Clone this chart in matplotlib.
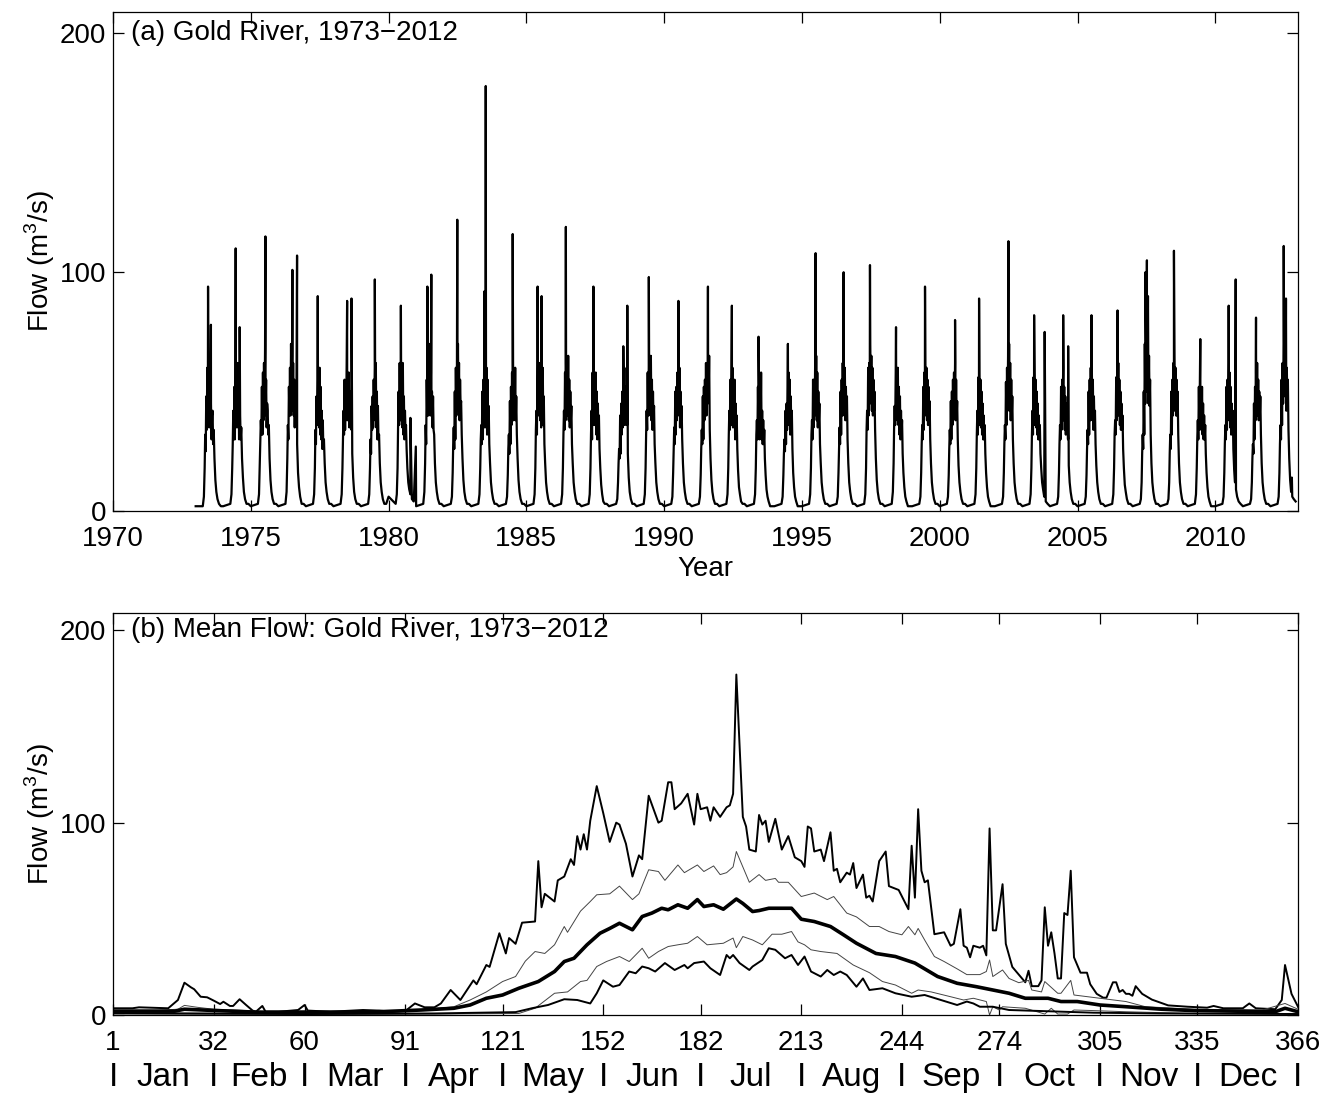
import numpy as np
import matplotlib
matplotlib.use("Agg")
import matplotlib.pyplot as plt
import matplotlib.transforms as mtransforms

plt.rcParams['font.family'] = ['Liberation Sans', 'DejaVu Sans']
plt.rcParams['mathtext.fontset'] = 'custom'
plt.rcParams['mathtext.rm'] = 'Liberation Sans'

# ---------------- panel (a): daily flow 1973-2012 ----------------
years = list(range(1973, 2013))
sample_doy = [1, 95, 110, 120, 127, 134, 141, 148, 155, 162, 169, 176, 183, 190,
              197, 204, 211, 218, 225, 232, 240, 250, 262, 275, 290, 310, 335]
body_flow = [
    [2, 2, 6, 18, 32, 25, 48, 34, 60, 35, 55, 40, 62, 35, 50, 45, 30, 40, 42, 28, 34, 22, 13, 8, 5, 3, 2],    # 1973
    [2, 3, 7, 18, 28, 42, 30, 52, 30, 55, 40, 50, 35, 62, 38, 55, 30, 45, 40, 30, 35, 22, 14, 8, 5, 3, 3],   # 1974
    [2, 3, 7, 20, 30, 38, 32, 52, 32, 58, 38, 62, 40, 68, 42, 55, 35, 45, 42, 32, 36, 22, 13, 8, 5, 3, 3],   # 1975
    [2, 3, 8, 22, 36, 30, 52, 40, 60, 40, 70, 45, 65, 42, 62, 40, 55, 35, 50, 36, 42, 28, 16, 10, 6, 3, 3],  # 1976
    [2, 3, 7, 18, 34, 28, 48, 36, 55, 38, 50, 35, 60, 32, 52, 30, 42, 26, 38, 26, 30, 20, 12, 8, 5, 3, 3],   # 1977
    [2, 3, 7, 18, 30, 42, 32, 55, 34, 48, 40, 62, 38, 55, 40, 58, 35, 50, 40, 45, 34, 24, 14, 8, 5, 3, 3],   # 1978
    [2, 3, 7, 18, 30, 24, 44, 34, 48, 35, 55, 40, 60, 38, 62, 35, 50, 30, 44, 30, 32, 20, 12, 8, 5, 3, 3],   # 1979
    [6, 3, 7, 18, 36, 50, 36, 62, 38, 55, 40, 58, 35, 62, 32, 48, 30, 42, 34, 36, 26, 18, 12, 9, 7, 5, 4],   # 1980
    [2, 3, 8, 20, 36, 28, 55, 40, 60, 40, 55, 45, 70, 40, 58, 42, 50, 35, 48, 34, 32, 20, 12, 8, 5, 3, 3],   # 1981
    [2, 3, 6, 16, 28, 35, 26, 50, 30, 60, 40, 55, 45, 70, 42, 62, 38, 55, 44, 46, 32, 22, 13, 8, 5, 3, 3],   # 1982
    [2, 3, 7, 18, 30, 36, 28, 50, 30, 55, 38, 62, 35, 50, 40, 60, 32, 55, 36, 44, 28, 20, 12, 8, 5, 3, 3],   # 1983
    [2, 3, 6, 15, 26, 32, 24, 46, 28, 52, 36, 58, 40, 62, 38, 55, 42, 60, 38, 48, 32, 22, 13, 8, 5, 3, 3],   # 1984
    [2, 3, 7, 18, 34, 42, 32, 62, 40, 55, 42, 62, 38, 58, 35, 52, 40, 60, 36, 48, 28, 20, 12, 8, 5, 3, 3],   # 1985
    [2, 3, 7, 18, 32, 42, 34, 58, 38, 62, 42, 58, 40, 65, 38, 55, 35, 50, 38, 44, 28, 20, 12, 8, 5, 3, 3],   # 1986
    [2, 3, 7, 18, 32, 42, 30, 58, 38, 60, 36, 52, 38, 58, 32, 50, 30, 45, 32, 40, 26, 18, 11, 7, 4, 3, 3],   # 1987
    [2, 3, 5, 12, 20, 26, 22, 40, 24, 45, 32, 50, 35, 55, 38, 60, 36, 52, 40, 48, 36, 24, 14, 8, 5, 3, 3],   # 1988
    [2, 3, 7, 18, 32, 42, 34, 58, 40, 60, 42, 58, 40, 65, 38, 55, 34, 50, 38, 44, 28, 20, 12, 8, 5, 3, 3],   # 1989
    [2, 3, 6, 16, 26, 35, 28, 50, 32, 52, 38, 58, 40, 55, 42, 60, 35, 50, 38, 44, 30, 20, 12, 8, 5, 3, 3],   # 1990
    [2, 3, 6, 15, 26, 34, 28, 48, 30, 52, 38, 55, 42, 62, 40, 58, 45, 60, 48, 65, 34, 22, 13, 8, 5, 3, 3],   # 1991
    [2, 3, 7, 18, 32, 42, 34, 55, 36, 55, 40, 60, 35, 52, 36, 55, 30, 45, 34, 40, 26, 17, 10, 7, 4, 3, 3],   # 1992
    [2, 3, 7, 18, 32, 38, 30, 52, 34, 55, 30, 45, 35, 58, 30, 42, 28, 38, 28, 34, 22, 15, 9, 6, 4, 2, 2],    # 1993
    [2, 3, 6, 15, 24, 30, 25, 42, 28, 45, 34, 52, 36, 58, 38, 55, 32, 48, 34, 42, 26, 16, 10, 6, 4, 2, 2],   # 1994
    [2, 3, 7, 18, 32, 38, 30, 55, 35, 55, 40, 62, 42, 65, 38, 58, 35, 50, 38, 45, 28, 20, 12, 8, 5, 3, 3],   # 1995
    [2, 3, 6, 16, 26, 35, 28, 50, 32, 55, 40, 62, 45, 68, 40, 60, 38, 52, 40, 48, 30, 20, 12, 8, 5, 3, 3],   # 1996
    [2, 3, 7, 18, 34, 42, 34, 60, 40, 62, 45, 70, 48, 65, 42, 60, 40, 55, 42, 50, 34, 22, 13, 8, 5, 3, 3],   # 1997
    [2, 3, 8, 20, 36, 44, 36, 58, 40, 50, 38, 60, 36, 52, 32, 48, 30, 42, 32, 38, 24, 16, 10, 6, 4, 2, 2],   # 1998
    [2, 3, 6, 16, 28, 36, 30, 52, 34, 58, 40, 62, 42, 60, 38, 55, 36, 52, 38, 46, 30, 20, 12, 8, 5, 3, 3],   # 1999
    [2, 3, 6, 15, 26, 34, 28, 46, 30, 50, 36, 55, 40, 58, 42, 62, 38, 55, 40, 46, 30, 19, 12, 8, 5, 3, 3],   # 2000
    [2, 3, 7, 18, 32, 42, 32, 56, 38, 58, 36, 55, 35, 50, 32, 45, 30, 40, 30, 36, 24, 16, 10, 6, 4, 2, 2],   # 2001
    [2, 3, 6, 16, 28, 36, 30, 54, 36, 60, 42, 65, 45, 70, 42, 62, 38, 55, 40, 48, 30, 20, 12, 8, 5, 3, 3],   # 2002
    [2, 3, 7, 18, 32, 42, 32, 56, 38, 58, 36, 55, 35, 50, 32, 45, 30, 40, 30, 36, 24, 18, 12, 9, 6, 4, 3],   # 2003
    [2, 3, 6, 16, 28, 36, 30, 52, 34, 55, 40, 60, 38, 52, 34, 48, 32, 45, 36, 42, 30, 19, 12, 8, 5, 3, 3],   # 2004
    [2, 3, 6, 15, 26, 34, 28, 50, 32, 55, 38, 60, 40, 62, 38, 55, 34, 48, 36, 42, 28, 19, 12, 8, 5, 3, 3],   # 2005
    [2, 3, 7, 18, 32, 38, 32, 56, 38, 60, 42, 62, 40, 55, 36, 50, 34, 45, 34, 40, 26, 18, 11, 8, 5, 3, 3],   # 2006
    [2, 3, 5, 12, 24, 32, 26, 50, 32, 70, 45, 80, 50, 85, 55, 90, 45, 65, 44, 55, 32, 20, 12, 8, 5, 3, 3],   # 2007
    [2, 3, 5, 12, 24, 32, 26, 50, 32, 55, 40, 62, 45, 65, 42, 60, 40, 55, 40, 50, 32, 20, 12, 8, 5, 3, 3],   # 2008
    [2, 3, 7, 18, 30, 38, 30, 52, 34, 55, 36, 50, 34, 52, 32, 45, 30, 40, 30, 36, 24, 16, 10, 6, 4, 2, 2],   # 2009
    [2, 3, 6, 16, 28, 36, 30, 52, 34, 55, 40, 62, 38, 58, 35, 52, 32, 45, 34, 42, 26, 18, 12, 9, 6, 4, 3],   # 2010
    [2, 3, 5, 12, 22, 28, 24, 45, 30, 52, 38, 58, 42, 62, 40, 55, 38, 50, 40, 48, 32, 20, 12, 8, 5, 3, 3],   # 2011
    [2, 3, 6, 16, 28, 36, 30, 55, 36, 62, 45, 70, 50, 75, 48, 68, 42, 60, 44, 55, 34, 22, 13, 8, 6, 5, 4],   # 2012
]
# single-day peaks
spike_year = [1973, 1973, 1974, 1974, 1975, 1976, 1976, 1977, 1978, 1978, 1979,
              1980, 1980, 1980, 1981, 1981, 1982, 1983, 1983, 1984, 1985, 1985,
              1986, 1987, 1988, 1988, 1989, 1990, 1991, 1992, 1993, 1994, 1995,
              1996, 1997, 1998, 1999, 2000, 2001, 2002, 2003, 2003, 2004, 2004,
              2005, 2006, 2007, 2007, 2008, 2009, 2010, 2010, 2011, 2012, 2012, 2012]
spike_doy = [165, 203, 166, 219, 195, 187, 249, 158, 182, 240, 184,
             164, 290, 362, 150, 202, 181, 193, 175, 185, 150, 203,
             159, 159, 190, 243, 163, 190, 216, 168, 156, 180, 182,
             188, 172, 152, 171, 204, 157, 181, 156, 296, 176, 242,
             186, 166, 170, 190, 183, 167, 178, 271, 175, 177, 207, 285]
spike_flow = [94, 78, 110, 77, 115, 101, 107, 90, 88, 89, 97,
              86, 39, 27, 94, 99, 122, 178, 92, 116, 94, 90,
              119, 94, 69, 86, 98, 88, 94, 86, 73, 70, 108,
              100, 103, 77, 94, 80, 89, 113, 82, 75, 82, 69,
              82, 84, 100, 105, 109, 72, 86, 97, 81, 111, 89, 14]

# ---------------- panel (b): day-of-year statistics ----------------
max_pts = [(1, 3.5), (7, 3.5), (9, 4), (18, 3.5), (21, 7.8), (23, 16.8), (25, 14.4), (26, 13.4),
           (28, 9.5), (30, 9.2), (32, 7.5), (34, 5.7), (35, 6.9), (37, 4.7), (38, 4.7), (40, 8.2),
           (42, 5.2), (44, 2.3), (45, 1.7), (47, 4.7), (48, 1.7), (52, 1.7), (58, 2.6), (60, 5.2),
           (61, 2.3), (68, 1.7), (78, 2.6), (83, 2.3), (87, 1.7), (91, 2), (94, 6), (97, 4),
           (100, 4), (102, 6), (105, 13), (108, 7.8), (112, 18), (113, 16), (116, 26), (117, 25),
           (120, 42.5), (122, 32), (123, 40), (125, 37), (127, 48), (131, 48.6), (132, 80), (133, 56),
           (134, 63), (137, 59), (138, 70), (140, 72), (142, 81), (143, 78), (144, 93), (145, 86),
           (146, 94), (147, 86), (148, 101), (150, 119), (152, 105), (154, 90), (156, 100), (157, 99),
           (159, 89), (161, 72), (163, 83), (164, 81), (166, 114), (169, 100), (170, 101), (172, 121),
           (173, 121), (174, 107), (176, 110), (178, 115), (180, 99), (181, 115), (182, 107), (184, 108),
           (185, 101), (186, 108), (188, 103), (190, 108), (191, 109), (192, 115), (193, 177), (194, 140),
           (195, 103), (196, 98), (197, 86), (199, 85), (200, 104), (201, 99), (202, 101), (203, 90),
           (205, 102), (207, 86), (209, 93), (211, 82), (213, 80), (214, 77), (215, 98), (216, 97),
           (217, 85), (219, 86), (220, 80), (222, 95), (223, 75), (224, 76), (225, 69), (227, 74),
           (228, 73), (229, 79), (230, 66), (232, 73), (233, 61), (234, 62), (235, 59), (237, 80),
           (239, 85), (240, 67), (243, 65), (246, 55), (247, 88), (248, 61), (249, 107), (250, 75),
           (251, 69), (252, 70), (254, 42), (257, 43), (259, 36), (260, 37), (262, 55), (263, 36),
           (264, 35), (265, 30), (266, 36), (268, 35), (269, 36), (270, 31), (271, 97), (272, 44),
           (273, 44), (275, 68), (276, 37), (278, 25), (280, 21), (282, 17), (283, 23), (284, 15),
           (286, 15), (287, 18), (288, 56), (289, 36), (290, 43), (291, 32), (292, 19), (293, 19),
           (294, 53), (295, 52), (296, 75), (297, 30), (299, 22), (301, 22), (302, 16), (304, 11),
           (306, 9), (307, 9), (309, 17), (310, 17), (311, 12), (312, 13), (313, 11), (314, 11),
           (315, 10), (316, 15), (318, 11), (321, 8), (326, 5), (332, 4.3), (338, 3.8), (340, 4.7),
           (343, 3.5), (349, 3.5), (351, 6), (353, 3.5), (359, 3), (361, 7.8), (362, 26), (364, 11),
           (366, 4.3)]

upper_pts = [(1, 2.5), (15, 2.5), (21, 3), (23, 5), (27, 4), (32, 3), (40, 2.5), (50, 1.5),
             (60, 2), (70, 1.5), (80, 1.8), (90, 2), (96, 2.6), (106, 4.3), (111, 7.8), (116, 12),
             (121, 17.4), (125, 20), (128, 28), (131, 33), (134, 32), (137, 36.5), (140, 46), (141, 43),
             (145, 54), (148, 59), (150, 62.5), (154, 63), (157, 67), (161, 60), (163, 63), (166, 75.5),
             (169, 74.6), (171, 70), (175, 78), (177, 74), (181, 78), (183, 74.6), (186, 77.5), (188, 73),
             (190, 74), (192, 77), (193, 85), (195, 77), (197, 69), (200, 73), (202, 70), (205, 71),
             (206, 69), (209, 69), (213, 61.6), (217, 63.4), (221, 60), (223, 61.6), (227, 53), (230, 51),
             (234, 46), (237, 46), (240, 43.4), (244, 41.7), (246, 46), (248, 41.7), (249, 45), (251, 39),
             (254, 30.4), (257, 27.8), (261, 24), (264, 21), (268, 21), (270, 22.6), (271, 28.6), (272, 20),
             (275, 23.4), (277, 19), (280, 16.8), (283, 18), (284, 13), (287, 12), (288, 17.4), (292, 11.3),
             (293, 11.3), (296, 18), (297, 10.4), (305, 8.7), (313, 7), (319, 4.3), (334, 3), (355, 2.6),
             (362, 6), (366, 3)]

mean_pts = [(1, 2), (20, 2), (23, 3), (30, 2.5), (45, 1.5), (60, 1.5), (80, 1.5), (96, 2.6),
            (106, 3.5), (111, 5.2), (116, 8.7), (121, 10.4), (126, 13.9), (132, 17.4), (137, 22.6),
            (140, 27.8), (143, 29.5), (147, 36.5), (151, 42.5), (154, 45), (157, 47.7), (161, 44.3),
            (164, 51.2), (167, 53), (170, 55.5), (172, 54.7), (175, 57.3), (178, 55.5), (181, 60),
            (183, 56.4), (186, 57.3), (189, 55), (193, 60.3), (195, 58), (198, 53.8), (200, 54.3),
            (203, 55.5), (206, 55.5), (210, 55.5), (213, 49.8), (217, 48.6), (222, 46), (226, 41.7),
            (230, 37.3), (236, 32), (242, 30.4), (248, 27), (255, 20), (261, 16.5), (267, 14.7),
            (272, 13), (277, 11.3), (282, 8.7), (289, 8.7), (293, 7), (298, 7), (305, 5.2), (313, 4.3),
            (324, 3), (334, 2.3), (359, 1.7), (362, 3.5), (366, 1.7)]

lower_pts = [(1, 0.5), (50, 0.3), (100, 0.5), (126, 0.8), (131, 3.5), (137, 11.3), (141, 12),
             (145, 17.4), (147, 18), (150, 25.2), (153, 27.8), (157, 30.4), (160, 27.8), (164, 34.7),
             (166, 29.5), (169, 33), (172, 35.6), (175, 36.5), (178, 37.3), (181, 40.8), (184, 36.5),
             (189, 37.3), (192, 40), (193, 35), (195, 40.8), (198, 39), (201, 36.5), (204, 42),
             (207, 42), (210, 43.4), (212, 38), (214, 36.5), (216, 33.9), (219, 33), (224, 32),
             (229, 26), (234, 22), (238, 17.4), (242, 15.6), (247, 11.3), (249, 13), (253, 12),
             (259, 9.5), (263, 7.8), (266, 8.7), (270, 7), (271, 0), (272, 4.3), (274, 2.6),
             (275, 4.3), (282, 3.5), (288, 0.5), (290, 3.5), (292, 0.5), (295, 0.5), (297, 2.6),
             (303, 2.3), (313, 1.7), (334, 0.8), (366, 0.8)]

min_pts = [(1, 1), (30, 0.8), (60, 0.5), (100, 0.8), (125, 1.5), (130, 3.5), (135, 5.2), (140, 8.2),
           (144, 7.8), (148, 6), (150, 11.3), (152, 18), (155, 14.7), (157, 15.6), (160, 22.6),
           (162, 21.7), (164, 25.2), (166, 24.3), (168, 22.6), (171, 27), (174, 23.4), (177, 26),
           (178, 24.3), (180, 27), (183, 27.8), (185, 24.3), (188, 20.8), (190, 31.2), (191, 29.5),
           (192, 31.2), (194, 27), (197, 23.4), (198, 25.2), (201, 28.6), (203, 34.7), (205, 33.9),
           (208, 29.5), (210, 31.2), (212, 26), (214, 30.4), (216, 22.6), (219, 20), (221, 23.4),
           (223, 20.8), (225, 22.6), (227, 20.8), (230, 14.7), (232, 19), (234, 13), (238, 13.9),
           (242, 11.3), (247, 9.5), (251, 10.4), (256, 7.8), (261, 5.2), (264, 7), (266, 6),
           (268, 4.3), (272, 4.3), (277, 2.6), (288, 2), (303, 1.2), (324, 0.8), (366, 0.5)]

month_start = [1, 32, 60, 91, 121, 152, 182, 213, 244, 274, 305, 335, 366]
month_names = ['Jan', 'Feb', 'Mar', 'Apr', 'May', 'Jun', 'Jul', 'Aug', 'Sep', 'Oct', 'Nov', 'Dec']

# ==========================================
# build the daily series for panel (a)
# ==========================================
t_all, q_all = [], []
for i, yr in enumerate(years):
    d = list(sample_doy)
    q = list(body_flow[i])
    assert len(q) == len(d), yr
    for sy, sd, sq in zip(spike_year, spike_doy, spike_flow):
        if sy == yr:
            d.append(sd)
            q.append(sq)
    order = np.argsort(d)
    d = np.array(d, dtype=float)[order]
    q = np.array(q, dtype=float)[order]
    t_all.extend(yr + (d - 1) / 365.25)
    q_all.extend(q)

W, H = 1338, 1097
fig = plt.figure(figsize=(W / 100, H / 100), dpi=100)
ax1 = fig.add_axes([113 / W, 1 - 511 / H, 1185 / W, 499 / H])
ax2 = fig.add_axes([113 / W, 1 - 1015 / H, 1185 / W, 402 / H])

FS = 20

def style(ax):
    ax.set_ylim(0, 209)
    ax.set_yticks([0, 100, 200])
    ax.tick_params(direction='in', length=8, width=0.9, top=True, right=True,
                   labelsize=FS)
    ax.tick_params(axis='y', pad=5)
    ax.tick_params(axis='x', pad=11)
    for s in ax.spines.values():
        s.set_linewidth(0.9)
    ax.set_ylabel(r'Flow (m$^{\mathregular{3}}$/s)', fontsize=FS, labelpad=2)

# ---- panel (a)
ax1.plot(t_all, q_all, color='black', lw=1.6)
style(ax1)
ax1.set_xlim(1970, 2013)
ax1.set_xticks(range(1970, 2011, 5))
ax1.set_xlabel('Year', fontsize=FS, labelpad=3)
trans1 = mtransforms.blended_transform_factory(ax1.transAxes, ax1.transData)
ax1.text(0.015, 200, '(a) Gold River, 1973\u22122012', transform=trans1,
         fontsize=FS, va='center', ha='left')

# ---- panel (b)
for pts, lw, col in [(max_pts, 1.4, 'black'), (upper_pts, 0.7, '#444444'),
                     (mean_pts, 2.6, 'black'), (lower_pts, 0.7, '#444444'),
                     (min_pts, 1.4, 'black')]:
    dd, qq = zip(*pts)
    ax2.plot(dd, qq, color=col, lw=lw)
style(ax2)
ax2.set_xlim(1, 366)
ax2.set_xticks(month_start)
ax2.set_xticklabels([str(m) for m in month_start])
trans2 = mtransforms.blended_transform_factory(ax2.transData, ax2.transAxes)
ax2.text(0.015, 200, '(b) Mean Flow: Gold River, 1973\u22122012',
         transform=mtransforms.blended_transform_factory(ax2.transAxes, ax2.transData),
         fontsize=FS, va='center', ha='left')

# month row under the day numbers
for m in month_start:
    ax2.text(m, -0.155, 'I', transform=trans2, fontsize=24, ha='center', va='center')
for k, name in enumerate(month_names):
    mid = (month_start[k] + month_start[k + 1]) / 2
    ax2.text(mid, -0.155, name, transform=trans2, fontsize=24, ha='center', va='center')

fig.savefig('out.png', dpi=100)
